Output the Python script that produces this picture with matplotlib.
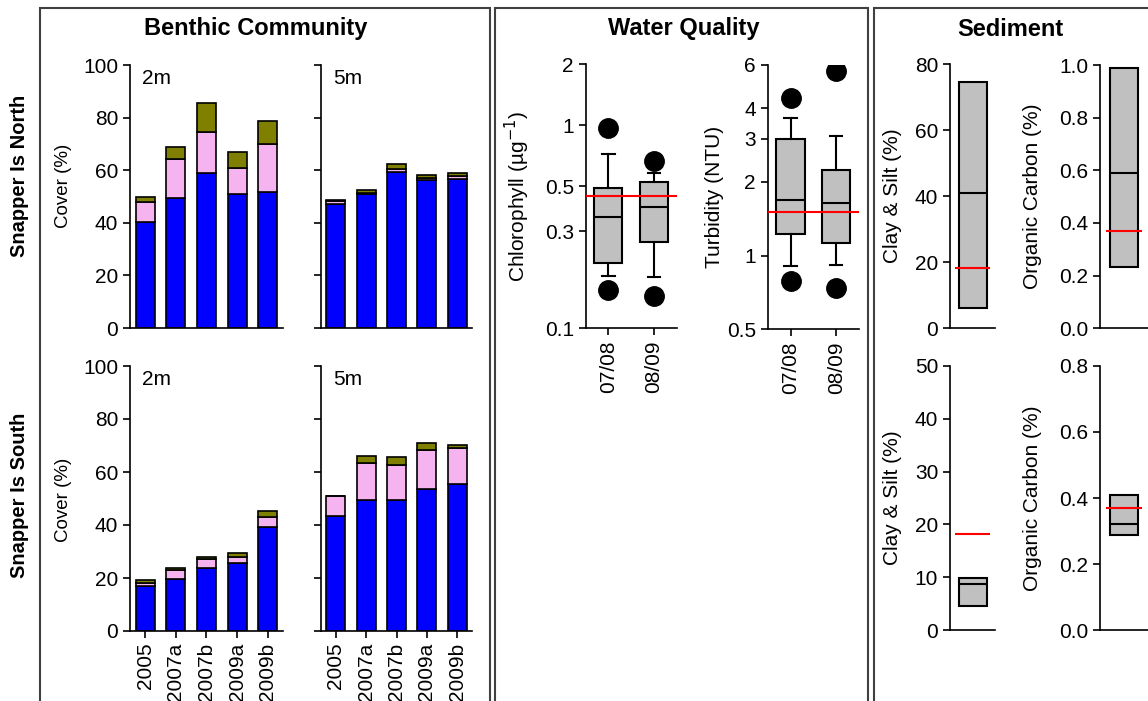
import matplotlib
matplotlib.use('Agg')
import matplotlib.pyplot as plt
from matplotlib.patches import Rectangle
from matplotlib.ticker import NullLocator
import numpy as np

plt.rcParams['font.family'] = ['Liberation Sans', 'DejaVu Sans']

W, H = 1148, 701

# ---- benthic cover (%) : hard coral (blue), soft coral (pink), macroalgae (olive)
years = ['2005', '2007a', '2007b', '2009a', '2009b']
north_2m_hard = [40.2, 49.5, 58.8, 50.8, 51.6]
north_2m_soft = [7.6, 14.8, 15.6, 10.2, 18.4]
north_2m_alg = [2.1, 4.4, 11.3, 6.0, 8.6]
north_5m_hard = [47.0, 51.0, 59.2, 56.3, 56.8]
north_5m_soft = [1.4, 0.2, 1.4, 0.9, 1.1]
north_5m_alg = [0.4, 1.1, 1.7, 1.1, 0.9]
south_2m_hard = [16.9, 19.8, 23.7, 25.5, 39.1]
south_2m_soft = [1.4, 3.1, 3.4, 2.4, 4.1]
south_2m_alg = [1.1, 1.0, 1.0, 1.5, 2.0]
south_5m_hard = [43.3, 49.6, 49.3, 53.5, 55.4]
south_5m_soft = [7.5, 13.9, 13.5, 14.8, 13.7]
south_5m_alg = [0.1, 2.7, 3.0, 2.8, 1.2]

# ---- water quality boxes: [whislo, q1, med, q3, whishi], outliers
wq_years = ['07/08', '08/09']
chl_boxes = [[0.181, 0.209, 0.352, 0.49, 0.72], [0.179, 0.267, 0.394, 0.525, 0.579]]
chl_out = [[0.965, 0.155], [0.668, 0.145]]
chl_guide = 0.448
turb_boxes = [[0.906, 1.23, 1.69, 2.98, 3.65], [0.912, 1.13, 1.64, 2.23, 3.08]]
turb_out = [[4.41, 0.787], [5.67, 0.74]]
turb_guide = 1.51

# ---- sediment boxes: [q1, med, q3]
clay_north = [6.2, 40.9, 74.5]
oc_north = [0.233, 0.590, 0.989]
clay_south = [4.65, 8.75, 9.83]
oc_south = [0.289, 0.322, 0.409]
clay_guide = 18.2
oc_guide = 0.37

BLUE = '#0000FF'
PINK = '#F5B4F0'
OLIVE = '#808000'
GREY = '#C0C0C0'
FS = 15


def add_ax(x0, y0, x1, y1):
    ax = fig.add_axes([x0 / W, 1 - y1 / H, (x1 - x0) / W, (y1 - y0) / H])
    for s in ['top', 'right']:
        ax.spines[s].set_visible(False)
    for s in ['left', 'bottom']:
        ax.spines[s].set_linewidth(1.2)
    ax.tick_params(direction='out', length=5, width=1.2, labelsize=FS)
    ax.set_facecolor('none')
    return ax


def ptext(x, y, s, **kw):
    fig.text(x / W, 1 - y / H, s, **kw)


fig = plt.figure(figsize=(W / 100, H / 100), dpi=100)

# panel frames
for x0, x1 in [(40, 490), (495, 868), (874, 1160)]:
    fig.add_artist(Rectangle((x0 / W, -0.05), (x1 - x0) / W, 1.05 - 8 / H,
                             transform=fig.transFigure, fill=False,
                             edgecolor='#404040', lw=1.5))

ptext(256, 29, 'Benthic Community', ha='center', va='center', fontsize=17, fontweight='bold')
ptext(684, 29, 'Water Quality', ha='center', va='center', fontsize=17, fontweight='bold')
ptext(1010, 29, 'Sediment', ha='center', va='center', fontsize=17, fontweight='bold')
ptext(20, 176, 'Snapper Is North', ha='center', va='center', rotation=90, fontsize=14.5, fontweight='bold')
ptext(20, 495, 'Snapper Is South', ha='center', va='center', rotation=90, fontsize=14.5, fontweight='bold')

# ---- benthic bars
bar_sets = [
    (130, 65, 283, 328, north_2m_hard, north_2m_soft, north_2m_alg, '2m', True, False),
    (320.7, 65, 472.3, 328, north_5m_hard, north_5m_soft, north_5m_alg, '5m', False, False),
    (130, 366, 283, 631, south_2m_hard, south_2m_soft, south_2m_alg, '2m', True, True),
    (320.7, 366, 472.3, 631, south_5m_hard, south_5m_soft, south_5m_alg, '5m', False, True),
]
x = np.arange(len(years))
for x0, y0, x1, y1, hard, soft, alg, depth, ylab, xlab in bar_sets:
    ax = add_ax(x0, y0, x1, y1)
    hard = np.array(hard); soft = np.array(soft); alg = np.array(alg)
    kw = dict(width=0.62, edgecolor='black', linewidth=1.2)
    ax.bar(x, hard, color=BLUE, **kw)
    ax.bar(x, soft, bottom=hard, color=PINK, **kw)
    ax.bar(x, alg, bottom=hard + soft, color=OLIVE, **kw)
    ax.set_xlim(-0.5, 4.5)
    ax.set_ylim(0, 100)
    ax.set_yticks([0, 20, 40, 60, 80, 100])
    if not ylab:
        ax.set_yticklabels([])
    ax.text(0.08, 0.985, depth, transform=ax.transAxes, fontsize=FS, va='top')
    if xlab:
        ax.set_xticks(x)
        ax.set_xticklabels(years, rotation=90)
    else:
        ax.set_xticks([])
ptext(63, 186, 'Cover (%)', ha='center', va='center', rotation=90, fontsize=13.5)
ptext(63, 500, 'Cover (%)', ha='center', va='center', rotation=90, fontsize=13.5)

# ---- water quality boxes
boxkw = dict(patch_artist=True,
             boxprops=dict(facecolor=GREY, edgecolor='black', linewidth=1.5),
             medianprops=dict(color='black', linewidth=1.5),
             whiskerprops=dict(color='black', linewidth=1.5),
             capprops=dict(color='black', linewidth=1.5),
             flierprops=dict(marker='o', markerfacecolor='black', markeredgecolor='black',
                             markersize=14, linestyle='none'))


def wq_stats(boxes, outs):
    st = []
    for b, o in zip(boxes, outs):
        st.append(dict(whislo=b[0], q1=b[1], med=b[2], q3=b[3], whishi=b[4], fliers=o))
    return st


wq = [
    (585.7, 64, 676.5, 328.3, chl_boxes, chl_out, chl_guide, (0.1, 2),
     [0.1, 0.3, 0.5, 1, 2], ['0.1', '0.3', '0.5', '1', '2'], 517, 'Chlorophyll (µg$^{-1}$)'),
    (767.7, 65, 859, 329.3, turb_boxes, turb_out, turb_guide, (0.5, 6),
     [0.5, 1, 2, 3, 4, 6], ['0.5', '1', '2', '3', '4', '6'], 715, 'Turbidity (NTU)'),
]
for x0, y0, x1, y1, boxes, outs, guide, lim, ticks, tlabs, lx, label in wq:
    ax = add_ax(x0, y0, x1, y1)
    ax.bxp(wq_stats(boxes, outs), positions=[1, 2], widths=0.62, capwidths=0.27, **boxkw)
    ax.axhline(guide, color='red', lw=1.5, zorder=5)
    ax.set_yscale('log')
    ax.set_ylim(*lim)
    ax.set_yticks(ticks)
    ax.set_yticklabels(tlabs)
    ax.yaxis.set_minor_locator(NullLocator())
    ax.set_xlim(0.5, 2.5)
    ax.set_xticks([1, 2])
    ax.set_xticklabels(wq_years, rotation=90)
    ptext(lx, (y0 + y1) / 2, label, ha='center', va='center', rotation=90, fontsize=FS)

# ---- sediment boxes
sed = [
    (950, 64, 995.3, 328.3, clay_north, clay_guide, 80, [0, 20, 40, 60, 80], '%d', 893, 'Clay & Silt (%)'),
    (1100, 65, 1148, 328.3, oc_north, oc_guide, 1.0, [0, 0.2, 0.4, 0.6, 0.8, 1.0], '%.1f', 1033, 'Organic Carbon (%)'),
    (950, 365.7, 995.3, 630.3, clay_south, clay_guide, 50, [0, 10, 20, 30, 40, 50], '%d', 893, 'Clay & Silt (%)'),
    (1100, 365.7, 1148, 630.3, oc_south, oc_guide, 0.8, [0, 0.2, 0.4, 0.6, 0.8], '%.1f', 1033, 'Organic Carbon (%)'),
]
for x0, y0, x1, y1, b, guide, top, ticks, fmt, lx, label in sed:
    ax = add_ax(x0, y0, x1, y1)
    st = [dict(whislo=b[0], q1=b[0], med=b[1], q3=b[2], whishi=b[2], fliers=[])]
    wd = 27.7 / (x1 - x0)
    ax.bxp(st, positions=[1], widths=wd, showcaps=False, **boxkw)
    ax.hlines(guide, 0.62, 1.38, color='red', lw=1.5, zorder=5)
    ax.set_xlim(0.5, 1.5)
    ax.set_ylim(0, top)
    ax.set_yticks(ticks)
    ax.set_yticklabels([fmt % t for t in ticks])
    ax.set_xticks([])
    ptext(lx, (y0 + y1) / 2, label, ha='center', va='center', rotation=90, fontsize=FS)

fig.savefig('out.png', dpi=100)
